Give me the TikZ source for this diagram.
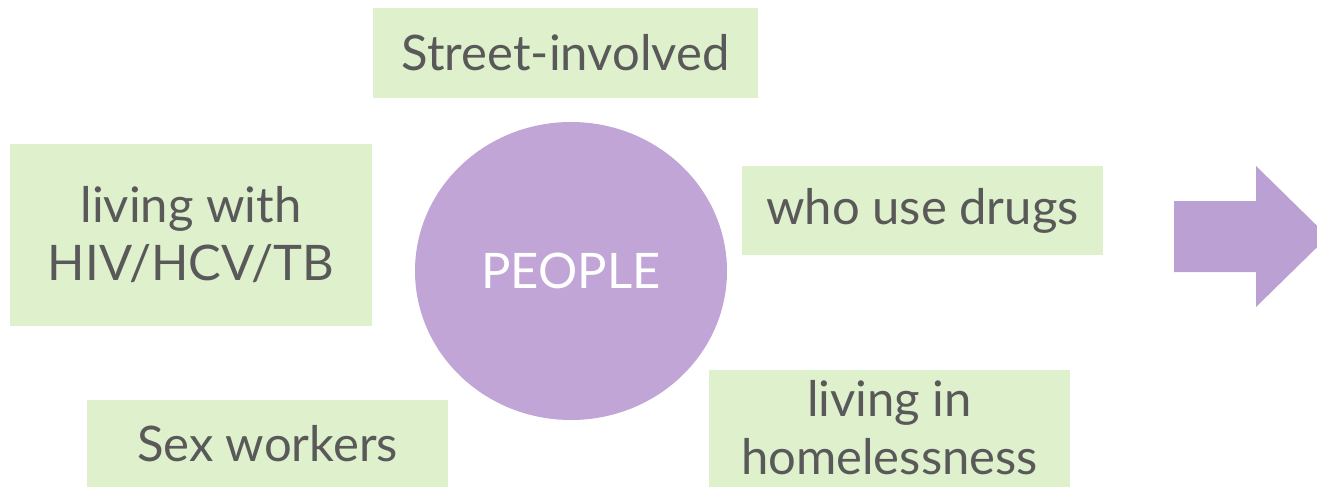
\documentclass[tikz,border=0pt]{standalone}
\usepackage{fontspec}
\setmainfont{Lato}
\usetikzlibrary{shapes.geometric}
\definecolor{boxgreen}{RGB}{223,240,205}
\definecolor{circpurple}{RGB}{192,165,214}
\definecolor{arrowpurple}{RGB}{187,160,211}
\definecolor{txtgray}{RGB}{89,89,89}
\tikzset{
  gtext/.style={inner sep=0pt, align=center, text=txtgray,
    font=\fontsize{49}{58}\selectfont},
  gbox/.style={gtext, fill=boxgreen, draw=none},
}
\begin{document}
\begin{tikzpicture}[x=1pt,y=-1pt]
\useasboundingbox (0,0) rectangle (1317,487);
\clip (0,0) rectangle (1317,487);
% boxes
\node[gbox, minimum width=385, minimum height=90] (street) at (565.5,53) {Street-involved};
\node[gbox, minimum width=362, minimum height=182] (hiv) at (191,235) {living with\\HIV/HCV/TB};
\node[gbox, minimum width=361, minimum height=89] (drugs) at (922.5,210.5) {who use drugs};
\node[gbox, minimum width=361, minimum height=87] (sex) at (267.5,443.5) {Sex workers};
\node[gbox, minimum width=361, minimum height=130] (home) at (889.5,435) {};
\node[gtext] (homelbl) at (889.5,428) {living in\\homelessness};
% circle
\node[ellipse, fill=circpurple, minimum width=312, minimum height=298, inner sep=0pt,
  text=white, font=\fontsize{49}{58}\selectfont] (people) at (571,271) {PEOPLE};
% arrow
\fill[arrowpurple] (1174,201) -- (1256,201) -- (1256,166) -- (1328,236.5)
  -- (1256,307) -- (1256,272) -- (1174,272) -- cycle;
\end{tikzpicture}
\end{document}
